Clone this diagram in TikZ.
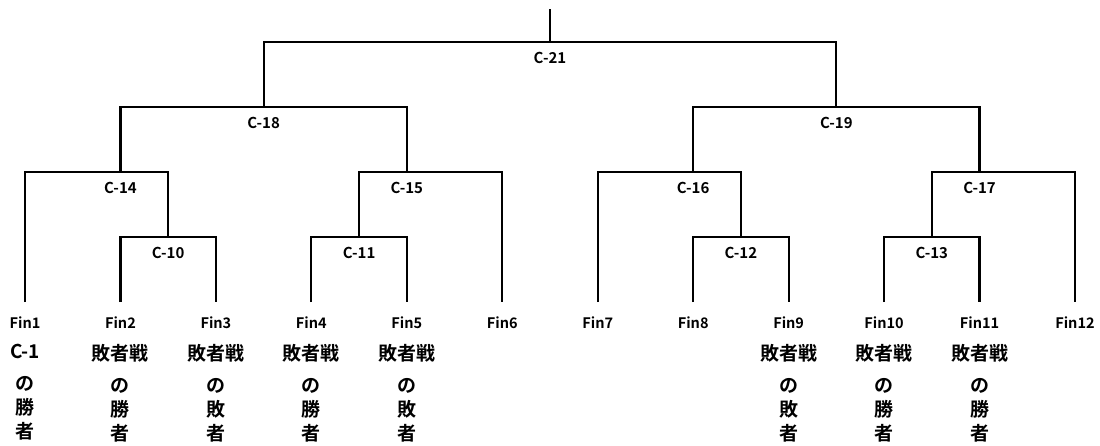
\documentclass[tikz,border=0pt]{standalone}
\usepackage{fontspec}
\setmainfont{Noto Sans CJK JP}[BoldFont={Noto Sans CJK JP Bold}]
\usetikzlibrary{
    positioning
}
\tikzset{
    match/.style={anchor=north, font=\bfseries\fontsize{15}{15}\selectfont,
        text height=11pt, text depth=0pt, inner xsep=1pt, inner ysep=10pt},
    fin/.style={anchor=north, font=\bfseries\fontsize{14.5}{14.5}\selectfont,
        text height=10pt, text depth=0pt, inner xsep=1pt, inner ysep=16pt},
    note/.style={align=center, inner sep=0pt, font=\bfseries\fontsize{19}{24}\selectfont},
    bracket/.style={line width=2.2pt, line join=miter}
}

\begin{document}
\begin{tikzpicture}[x=95.45pt, y=-65pt]
                        \useasboundingbox (-0.262, -0.646) rectangle (11.262, 6.2);
                        \coordinate (top) at (5.5, -0.51);
                        \node[match] (c21) at (5.5, 0) {C-21};
                        \node[match] (c18) at (2.5, 1) {C-18};
                        \node[match] (c19) at (8.5, 1) {C-19};
                        \node[match] (c14) at (1, 2) {C-14};
                        \node[match] (c15) at (4, 2) {C-15};
                        \node[match] (c16) at (7, 2) {C-16};
                        \node[match] (c17) at (10, 2) {C-17};
                        \node[match] (c10) at (1.5, 3) {C-10};
                        \node[match] (c11) at (3.5, 3) {C-11};
                        \node[match] (c12) at (7.5, 3) {C-12};
                        \node[match] (c13) at (9.5, 3) {C-13};
                        \node[fin] (fin1) at (0, 4) {Fin1};
                        \node[fin] (fin2) at (1, 4) {Fin2};
                        \node[fin] (fin3) at (2, 4) {Fin3};
                        \node[fin] (fin4) at (3, 4) {Fin4};
                        \node[fin] (fin5) at (4, 4) {Fin5};
                        \node[fin] (fin6) at (5, 4) {Fin6};
                        \node[fin] (fin7) at (6, 4) {Fin7};
                        \node[fin] (fin8) at (7, 4) {Fin8};
                        \node[fin] (fin9) at (8, 4) {Fin9};
                        \node[fin] (fin10) at (9, 4) {Fin10};
                        \node[fin] (fin11) at (10, 4) {Fin11};
                        \node[fin] (fin12) at (11, 4) {Fin12};
                        \node[note, below=0pt of fin1] (win1) {C-1\\[8pt]の\\勝\\者};
                        \node[note, below=0pt of fin2] (win2) {敗者戦\\[8pt]の\\勝\\者};
                        \node[note, below=0pt of fin3] (lose3) {敗者戦\\[8pt]の\\敗\\者};
                        \node[note, below=0pt of fin4] (win4) {敗者戦\\[8pt]の\\勝\\者};
                        \node[note, below=0pt of fin5] (lose5) {敗者戦\\[8pt]の\\敗\\者};
                        \node[note, below=0pt of fin9] (lose9) {敗者戦\\[8pt]の\\敗\\者};
                        \node[note, below=0pt of fin10] (win10) {敗者戦\\[8pt]の\\勝\\者};
                        \node[note, below=0pt of fin11] (win11) {敗者戦\\[8pt]の\\勝\\者};
                        \draw[bracket]
                        (c21.north) -- (top)
                        (c18.north) |- (c21.north) -| (c19.north)
                        (c14.north) |- (c18.north) -| (c15.north)
                        (c16.north) |- (c19.north) -| (c17.north)
                        (fin1.north) |- (c14.north) -| (c10.north)
                        (c11.north) |- (c15.north) -| (fin6.north)
                        (fin7.north) |- (c16.north) -| (c12.north)
                        (c13.north) |- (c17.north) -| (fin12.north)
                        (fin2.north) |- (c10.north) -| (fin3.north)
                        (fin4.north) |- (c11.north) -| (fin5.north)
                        (fin8.north) |- (c12.north) -| (fin9.north)
                        (fin10.north) |- (c13.north) -| (fin11.north);
                    \end{tikzpicture}
\end{document}
